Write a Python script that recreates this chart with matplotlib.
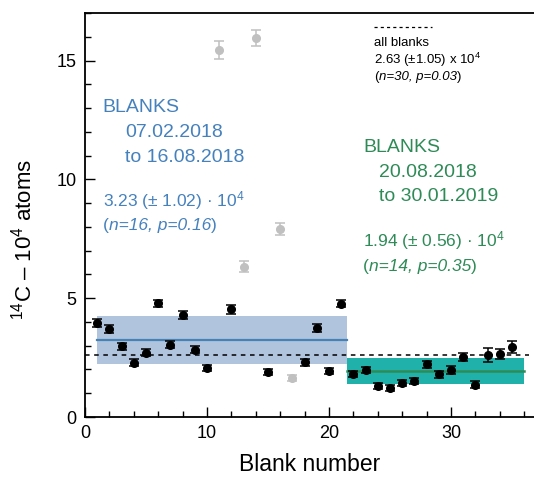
import matplotlib
matplotlib.use("Agg")
import matplotlib.pyplot as plt
from matplotlib.ticker import MultipleLocator
from matplotlib.lines import Line2D

plt.rcParams['font.family'] = ['Liberation Sans', 'DejaVu Sans']
plt.rcParams['mathtext.fontset'] = 'custom'
plt.rcParams['mathtext.rm'] = 'Liberation Sans'
plt.rcParams['mathtext.it'] = 'Liberation Sans:italic'

# first period (07.02.2018 - 16.08.2018)
blank_a = [1, 2, 3, 4, 5, 6, 7, 8, 9, 10, 12, 15, 18, 19, 20, 21]
c14_a = [3.95, 3.71, 2.98, 2.29, 2.71, 4.78, 3.05, 4.29, 2.83, 2.05,
         4.53, 1.89, 2.31, 3.75, 1.92, 4.77]
err_a = [0.17, 0.17, 0.15, 0.14, 0.14, 0.16, 0.14, 0.18, 0.15, 0.13,
         0.18, 0.13, 0.15, 0.17, 0.13, 0.16]

# outliers, not used for the mean
blank_out = [11, 13, 14, 16, 17]
c14_out = [15.44, 6.33, 15.94, 7.90, 1.65]
err_out = [0.38, 0.22, 0.34, 0.25, 0.12]

# second period (20.08.2018 - 30.01.2019)
blank_b = [22, 23, 24, 25, 26, 27, 28, 29, 30, 31, 32, 33, 34, 35]
c14_b = [1.81, 1.98, 1.31, 1.22, 1.42, 1.53, 2.21, 1.79, 1.98, 2.52,
         1.36, 2.60, 2.66, 2.94]
err_b = [0.14, 0.14, 0.14, 0.13, 0.13, 0.13, 0.16, 0.14, 0.17, 0.18,
         0.15, 0.30, 0.21, 0.24]

# period means
period_a = (1, 21.5)
mean_a, sd_a = 3.23, 1.02
period_b = (21.5, 36)
mean_b, sd_b = 1.94, 0.56
mean_all = 2.63

blue_band = '#b0c4de'
blue_line = '#4682b4'
blue_text = '#4581bd'
green_band = '#20b2aa'
green_line = '#2e8b57'
green_text = '#2e8b57'
grey = '#c0c0c0'


def chained(ax, x, y, parts, **kw):
    """Write text pieces one after another, each with its own style."""
    t = ax.text(x, y, parts[0][0], transform=ax.transAxes, ha='left',
                va='bottom', fontstyle=parts[0][1], **kw)
    for s, style in parts[1:]:
        t = ax.annotate(s, xy=(1, 0), xycoords=t, ha='left', va='bottom',
                        fontstyle=style, **kw)
    return t


fig = plt.figure(figsize=(5.34, 4.78), dpi=100)
ax = fig.add_axes([0.159, 0.1276, 0.841, 0.845])

# bands and mean lines
ax.fill_between(period_a, mean_a - sd_a, mean_a + sd_a, color=blue_band,
                lw=0, zorder=1)
ax.plot(period_a, [mean_a, mean_a], color=blue_line, lw=1.6, zorder=2)
ax.fill_between(period_b, mean_b - sd_b, mean_b + sd_b, color=green_band,
                lw=0, zorder=1)
ax.plot(period_b, [mean_b, mean_b], color=green_line, lw=1.8, zorder=2)
ax.hlines(mean_all, 0, 36.4, colors='k', linestyles=(0, (3, 3)), lw=1.1,
          zorder=3)

# points
ekw = dict(fmt='o', ms=5.5, capsize=3.5, elinewidth=1.1, capthick=1.1,
           zorder=4)
ax.errorbar(blank_out, c14_out, yerr=err_out, color=grey, ecolor=grey, **ekw)
ax.errorbar(blank_a, c14_a, yerr=err_a, color='k', ecolor='k', **ekw)
ax.errorbar(blank_b, c14_b, yerr=err_b, color='k', ecolor='k', **ekw)

ax.set_xlim(0, 36.8)
ax.set_ylim(0, 17.0)
ax.xaxis.set_major_locator(MultipleLocator(10))
ax.xaxis.set_minor_locator(MultipleLocator(2))
ax.yaxis.set_major_locator(MultipleLocator(5))
ax.yaxis.set_minor_locator(MultipleLocator(1))
ax.tick_params(which='both', direction='in', top=False, right=False,
               labelsize=13, width=1)
ax.tick_params(which='major', length=7, pad=6)
ax.tick_params(which='minor', length=4)
ax.spines['right'].set_visible(False)
for s in ['left', 'bottom', 'top']:
    ax.spines[s].set_linewidth(1.3)

ax.set_xlabel('Blank number', fontsize=16.5, labelpad=8)
ax.set_ylabel('${}^{14}$C – 10$^{4}$ atoms', fontsize=16)
ax.yaxis.set_label_coords(-0.107, 0.44)

# period A annotation
ax.text(0.040, 0.756, 'BLANKS', transform=ax.transAxes, color=blue_text,
        fontsize=14, va='baseline')
ax.text(0.089, 0.694, '07.02.2018', transform=ax.transAxes, color=blue_text,
        fontsize=14, va='baseline')
ax.text(0.089, 0.632, 'to 16.08.2018', transform=ax.transAxes,
        color=blue_text, fontsize=14, va='baseline')
ax.text(0.040, 0.5205, '3.23 (± 1.02) · 10$^{4}$', transform=ax.transAxes,
        color=blue_text, fontsize=12.5, va='baseline')
chained(ax, 0.040, 0.455, [('(', 'normal'), ('n=16, p=0.16', 'italic'),
                           (')', 'normal')], color=blue_text, fontsize=12.5)

# period B annotation
ax.text(0.620, 0.657, 'BLANKS', transform=ax.transAxes, color=green_text,
        fontsize=14, va='baseline')
ax.text(0.6555, 0.595, '20.08.2018', transform=ax.transAxes,
        color=green_text, fontsize=14, va='baseline')
ax.text(0.6555, 0.535, 'to 30.01.2019', transform=ax.transAxes,
        color=green_text, fontsize=14, va='baseline')
ax.text(0.619, 0.4215, '1.94 (± 0.56) · 10$^{4}$', transform=ax.transAxes,
        color=green_text, fontsize=12.5, va='baseline')
chained(ax, 0.619, 0.355, [('(', 'normal'), ('n=14, p=0.35', 'italic'),
                           (')', 'normal')], color=green_text, fontsize=12.5)

# overall mean annotation
ax.add_line(Line2D([0.644, 0.773], [0.965, 0.965], transform=ax.transAxes,
                   color='k', lw=0.9, ls=(0, (2.5, 2.5))))
ax.text(0.644, 0.926, 'all blanks', transform=ax.transAxes, fontsize=9.5,
        va='center')
ax.text(0.644, 0.884, '2.63 (±1.05) x 10$^{4}$', transform=ax.transAxes,
        fontsize=9.5, va='center')
chained(ax, 0.644, 0.826, [('(', 'normal'), ('n=30, p=0.03', 'italic'),
                           (')', 'normal')], color='k', fontsize=9.5)

fig.savefig('out.png', dpi=100)
